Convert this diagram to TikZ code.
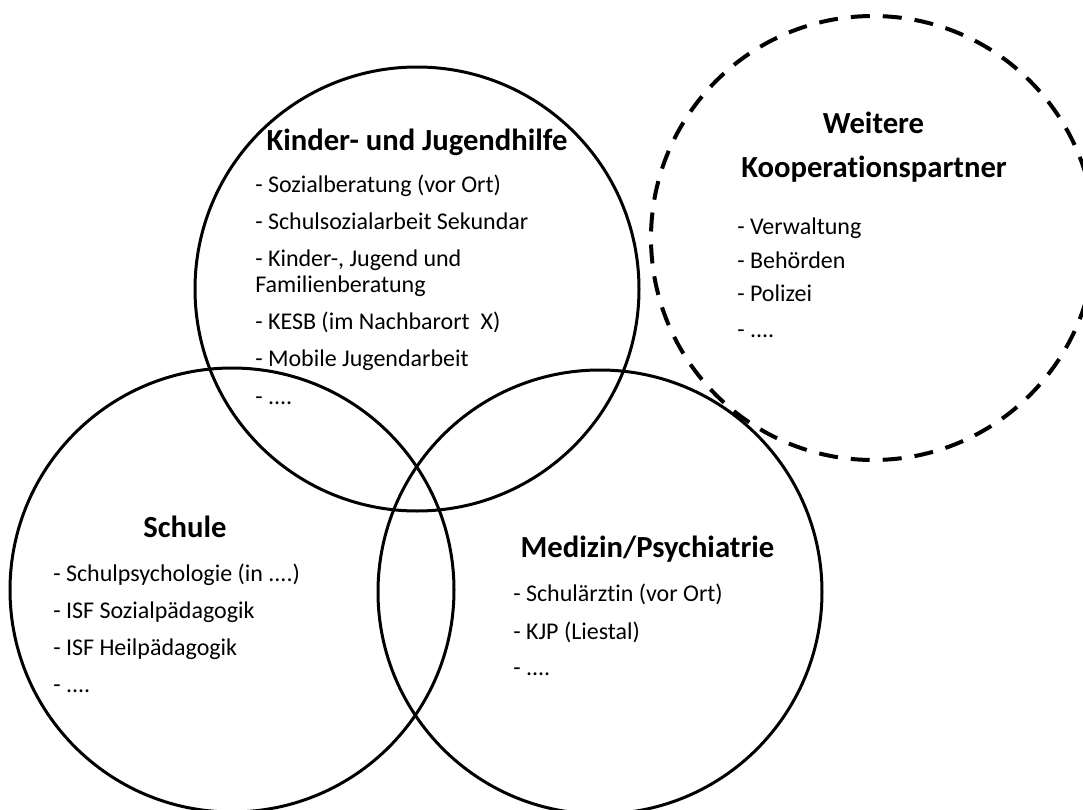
\documentclass[tikz,border=0pt]{standalone}
\usepackage{fontspec}
\setmainfont{Carlito}[Ligatures={NoCommon}]
\begin{document}
\begin{tikzpicture}[x=0.75pt,y=-0.75pt,
  ring/.style={draw=black,line width=2.25pt},
  dashring/.style={draw=black,line width=3pt,dash pattern=on 14.25pt off 9.75pt},
  ttl/.style={font=\fontsize{23pt}{27pt}\selectfont\bfseries,inner sep=0pt,anchor=base},
  item/.style={font=\fontsize{18pt}{21pt}\selectfont,inner sep=0pt,anchor=base west}]
\useasboundingbox (0,0) rectangle (1083,810);
% circles
\draw[ring] (417,289) circle [radius=166.5pt];
\draw[ring] (232,590) circle [radius=166.5pt];
\draw[ring] (600,592) circle [radius=166.5pt];
\draw[dashring] (873,238) circle [radius=166.5pt];
% Kinder- und Jugendhilfe
\node[ttl] (t1) at (417,150) {Kinder- und Jugendhilfe};
\node[item] (a1) at (255,192) {- Sozialberatung (vor Ort)};
\node[item] (a2) at (255,229) {- Schulsozialarbeit Sekundar};
\node[item] (a3) at (255,266) {- Kinder-, Jugend und};
\node[item] (a3b) at (255,292.5) {Familienberatung};
\node[item] (a4) at (255,329.5) {- KESB (im Nachbarort\ \ X)};
\node[item] (a5) at (255,366.5) {- Mobile Jugendarbeit};
\node[item] (a6) at (255,404) {- ....};
% Schule
\node[ttl] (t2) at (185,537) {Schule};
\node[item] (b1) at (53,581) {- Schulpsychologie (in ....)};
\node[item] (b2) at (53,618) {- ISF Sozialpädagogik};
\node[item] (b3) at (53,655) {- ISF Heilpädagogik};
\node[item] (b4) at (53,692) {- ....};
% Medizin
\node[ttl] (t3) at (647.5,557.5) {Medizin/Psychiatrie};
\node[item] (c1) at (513,601) {- Schulärztin (vor Ort)};
\node[item] (c2) at (513,639) {- KJP (Liestal)};
\node[item] (c3) at (513,675.5) {- ....};
% Weitere
\node[ttl] (t4) at (873.5,133) {Weitere};
\node[ttl] (t4b) at (874,177) {Kooperationspartner};
\node[item] (d1) at (737,234) {- Verwaltung};
\node[item] (d2) at (737,268) {- Behörden};
\node[item] (d3) at (737,301) {- Polizei};
\node[item] (d4) at (737,337) {- ....};
\end{tikzpicture}
\end{document}
